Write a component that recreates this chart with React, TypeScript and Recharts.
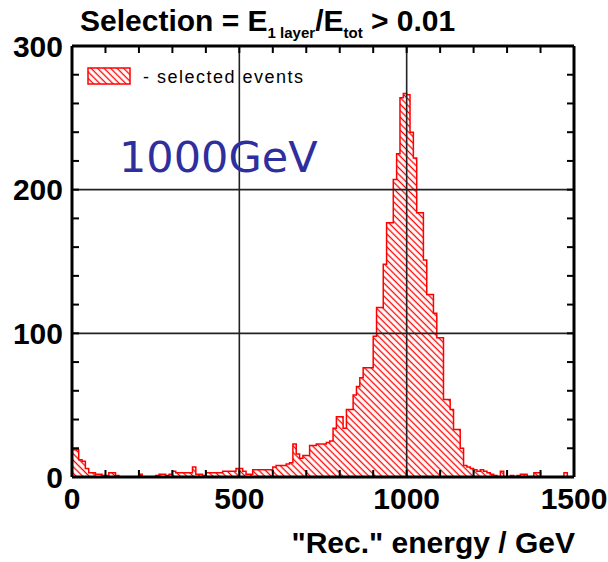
import {
  ComposedChart, Area, XAxis, YAxis, ReferenceLine,
} from 'recharts';

// 10 GeV bins from 0 to 1500 GeV, counts
const BIN_WIDTH = 10;
const counts = [
  19, 19, 12, 11, 6, 3, 3, 2, 2, 1,
  1, 3, 3, 1, 0, 0, 0, 0, 0, 0,
  2, 0, 0, 0, 0, 1, 2, 2, 1, 2,
  4, 3, 3, 3, 3, 3, 7, 2, 2, 1,
  3, 3, 3, 3, 3, 4, 4, 4, 4, 6,
  6, 4, 2, 2, 5, 5, 5, 5, 5, 5,
  7, 8, 8, 8, 9, 10, 23, 16, 13, 15,
  15, 22, 22, 23, 23, 23, 24, 25, 34, 42,
  42, 34, 47, 47, 57, 63, 69, 76, 76, 76,
  98, 118, 118, 148, 177, 177, 207, 225, 264, 267,
  266, 240, 222, 184, 184, 151, 127, 127, 114, 97,
  97, 54, 54, 47, 33, 33, 20, 8, 7, 6,
  5, 4, 5, 4, 3, 2, 1, 0, 4, 0,
  0, 1, 0, 1, 2, 2, 0, 0, 3, 3,
  0, 0, 0, 0, 0, 0, 0, 3, 0, 0,
];

const xTicks = [0, 500, 1000, 1500];
const yTicks = [0, 100, 200, 300];
const xMinorTicks = [0, 100, 200, 300, 400, 500, 600, 700, 800, 900, 1000, 1100, 1200, 1300, 1400, 1500];
const yMinorTicks = [0, 20, 40, 60, 80, 100, 120, 140, 160, 180, 200, 220, 240, 260, 280, 300];
const xGrid = [500, 1000];
const yGrid = [100, 200];

// step data: one point per bin edge, last edge repeats the last bin
const data = counts
  .map((c, i) => ({ energy: i * BIN_WIDTH, count: c }))
  .concat([{ energy: counts.length * BIN_WIDTH, count: counts[counts.length - 1] }]);

const RED = '#ff0000';
const FONT = '"Liberation Sans", Arial, sans-serif';
const tickStyle = { fontSize: 30, fontWeight: 'bold', fill: '#000', fontFamily: FONT };
const noLabel = { fontSize: 10, fill: 'transparent' };
const minorTickLine = { stroke: '#000', strokeWidth: 2 };

const App = () => {
  return (
    <div style={{ position: 'absolute', left: 0, top: 0, width: 608, height: 562, background: '#fff' }}>
      <ComposedChart
        width={608}
        height={562}
        data={data}
        margin={{ top: 46, right: 34, left: 12, bottom: 0 }}
      >
        <defs>
          <pattern id="hatch" width="4.6" height="4.6" patternUnits="userSpaceOnUse" patternTransform="rotate(-45)">
            <line x1="2.3" y1="0" x2="2.3" y2="4.6" stroke={RED} strokeWidth="1.3" />
          </pattern>
        </defs>
        <XAxis
          xAxisId="x"
          dataKey="energy"
          type="number"
          domain={[0, 1500]}
          ticks={xTicks}
          interval={0}
          tick={tickStyle}
          tickLine={false}
          tickSize={0}
          tickMargin={11}
          axisLine={{ stroke: '#000', strokeWidth: 3 }}
          height={85}
        />
        {/* inward minor ticks on all four sides */}
        <XAxis
          xAxisId="xb"
          dataKey="energy"
          type="number"
          domain={[0, 1500]}
          ticks={xMinorTicks}
          interval={0}
          orientation="bottom"
          mirror
          tick={noLabel}
          tickLine={minorTickLine}
          tickSize={7}
          axisLine={false}
        />
        <XAxis
          xAxisId="xt"
          dataKey="energy"
          type="number"
          domain={[0, 1500]}
          ticks={xMinorTicks}
          interval={0}
          orientation="top"
          mirror
          tick={noLabel}
          tickLine={minorTickLine}
          tickSize={7}
          axisLine={{ stroke: '#000', strokeWidth: 3 }}
        />
        <YAxis
          yAxisId="y"
          dataKey="count"
          type="number"
          domain={[0, 300]}
          ticks={yTicks}
          interval={0}
          tick={tickStyle}
          tickLine={false}
          tickSize={0}
          tickMargin={9}
          axisLine={{ stroke: '#000', strokeWidth: 3 }}
          width={60}
        />
        <YAxis
          yAxisId="yl"
          dataKey="count"
          type="number"
          domain={[0, 300]}
          ticks={yMinorTicks}
          interval={0}
          orientation="left"
          mirror
          tick={noLabel}
          tickLine={minorTickLine}
          tickSize={7}
          axisLine={false}
        />
        <YAxis
          yAxisId="yr"
          dataKey="count"
          type="number"
          domain={[0, 300]}
          ticks={yMinorTicks}
          interval={0}
          orientation="right"
          mirror
          tick={noLabel}
          tickLine={minorTickLine}
          tickSize={7}
          axisLine={{ stroke: '#000', strokeWidth: 3 }}
        />

        {/* hatched histogram */}
        <Area
          xAxisId="x"
          yAxisId="y"
          type="stepAfter"
          dataKey="count"
          stroke={RED}
          strokeWidth={1.5}
          fill="url(#hatch)"
          fillOpacity={1}
          baseValue={0}
          dot={false}
          activeDot={false}
          isAnimationActive={false}
        />

        {/* grid drawn over the histogram */}
        {xGrid.map((v) => (
          <ReferenceLine key={`gx${v}`} xAxisId="x" yAxisId="y" x={v} stroke="#222" strokeWidth={1.6} />
        ))}
        {yGrid.map((v) => (
          <ReferenceLine key={`gy${v}`} xAxisId="x" yAxisId="y" y={v} stroke="#222" strokeWidth={1.6} />
        ))}
      </ComposedChart>

      {/* texts and legend */}
      <svg width={608} height={562} style={{ position: 'absolute', left: 0, top: 0, pointerEvents: 'none' }}>
        <text x={80} y={31} fontFamily={FONT} fontWeight="bold" fontSize={30} fill="#000">
          Selection = E
          <tspan fontSize={15} dy={7}>1 layer</tspan>
          <tspan dy={-7}>/E</tspan>
          <tspan fontSize={15} dy={7}>tot</tspan>
          <tspan dy={-7}> &gt; 0.01</tspan>
        </text>

        <rect x={88} y={68} width={42} height={16} fill="url(#hatch)" stroke={RED} strokeWidth={1.5} />
        <text x={143} y={83} fontFamily={FONT} fontSize={18} letterSpacing={1.5} fill="#000">
          - selected events
        </text>

        <text x={119} y={172} fontFamily='"DejaVu Sans", sans-serif' fontSize={43} fill="#2e2e9e">
          1000GeV
        </text>

        <text x={575} y={553} textAnchor="end" fontFamily={FONT} fontWeight="bold" fontSize={30} fill="#000">
          "Rec." energy / GeV
        </text>
      </svg>
    </div>
  );
};

export default App;
